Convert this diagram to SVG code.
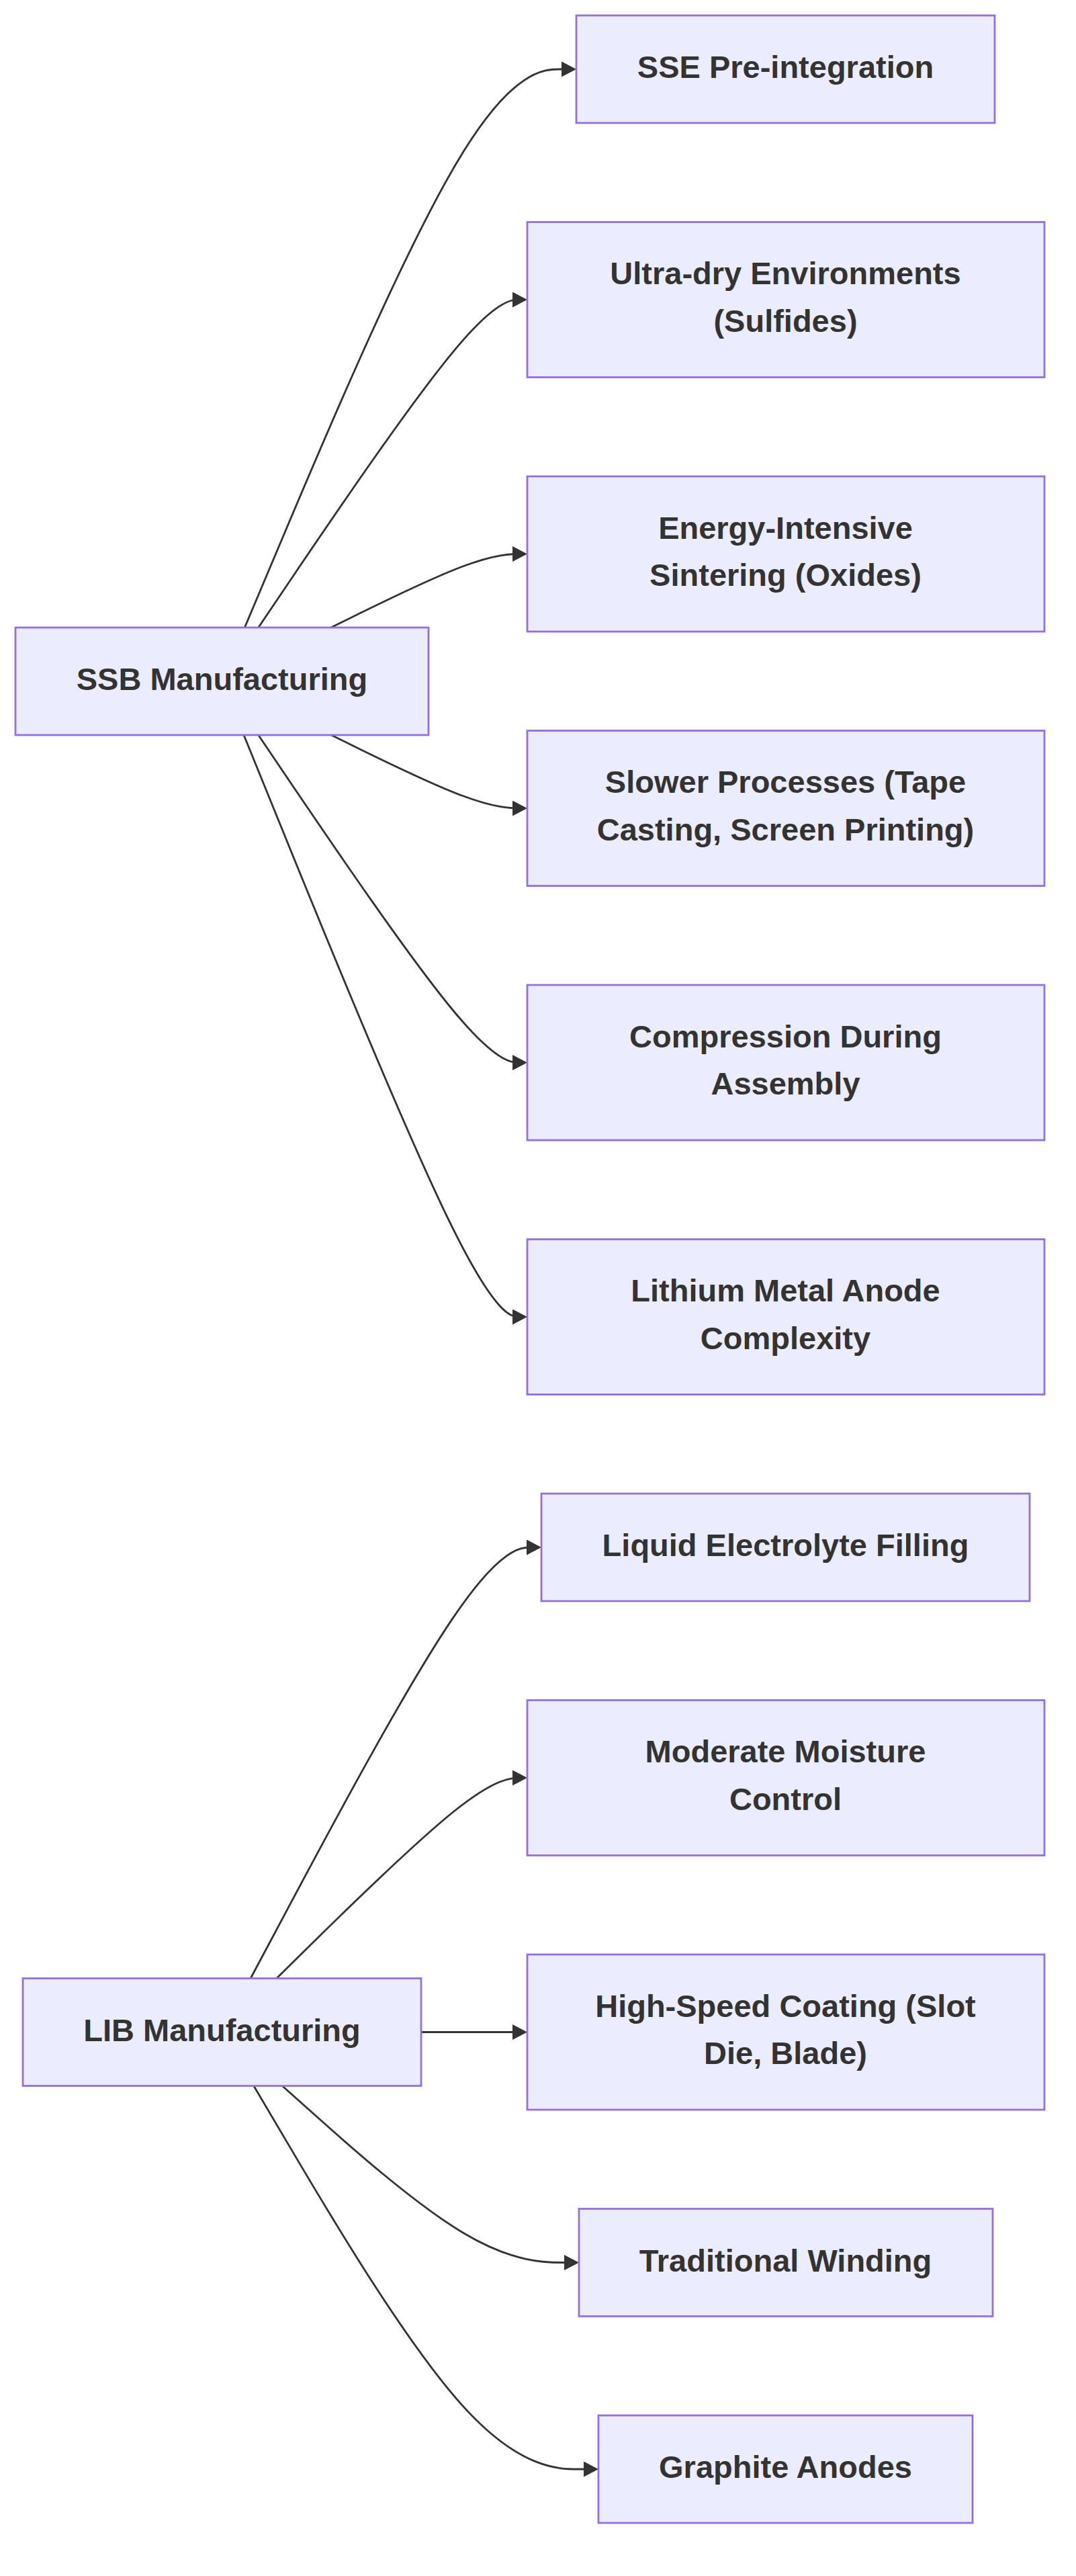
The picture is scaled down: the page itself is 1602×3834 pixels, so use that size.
<svg xmlns="http://www.w3.org/2000/svg" width="1602" height="3834" viewBox="0 0 1602 3834">
<style>
.node rect{fill:#ECECFF;stroke:#9370DB;stroke-width:2.8}
.node text{font-family:"Liberation Sans",Arial,sans-serif;font-weight:bold;font-size:47px;fill:#333333;text-anchor:middle}
.edges path{fill:none;stroke:#333333;stroke-width:2.8}
</style>
<defs>
<marker id="arrow" viewBox="0 0 10 10" refX="6.36" refY="5" markerUnits="userSpaceOnUse" markerWidth="22" markerHeight="23" orient="auto" preserveAspectRatio="none">
<path d="M0,0 L10,5 L0,10 z" fill="#333333"/>
</marker>
</defs>
<rect width="1602" height="3834" fill="#ffffff"/>
<g class="edges">
<path marker-end="url(#arrow)" d="M364.3,934 L422.75,795.5 C481.2,657 598.1,380 680.4,241.5 C762.7,103 810.3,103 834.2,103 L850,103"/>
<path marker-end="url(#arrow)" d="M384.7,934 L439.6,852.7 C494.8,771.3 604.9,608.7 671.6,527.3 C738.3,446 761.7,446 773.3,446 L777,446"/>
<path marker-end="url(#arrow)" d="M492.8,934 L529.8,915.75 C566.9,897.5 640.9,861 689.6,842.75 C738.3,824.5 761.7,824.5 773.3,824.5 L777,824.5"/>
<path marker-end="url(#arrow)" d="M493.25,1094 L530.2,1112.2 C567.2,1130.3 641.1,1166.7 689.7,1184.8 C738.3,1203 761.7,1203 773.3,1203 L777,1203"/>
<path marker-end="url(#arrow)" d="M384.7,1094 L439.6,1175.25 C494.8,1256.5 604.9,1419 671.6,1500.25 C738.3,1581.5 761.7,1581.5 773.3,1581.5 L777,1581.5"/>
<path marker-end="url(#arrow)" d="M363,1094 L421.7,1238.3 C480.3,1382.7 597.7,1671.3 668,1815.7 C738.3,1960 761.7,1960 773.3,1960 L777,1960"/>
<path marker-end="url(#arrow)" d="M373.1,2944.5 L430.1,2837.6 C487.1,2730.7 601,2516.8 673.2,2409.9 C745.3,2303 775.7,2303 790.8,2303 L798,2303"/>
<path marker-end="url(#arrow)" d="M411.8,2944.5 L462.3,2894.75 C512.9,2845 613.9,2745.5 676.1,2695.75 C738.3,2646 761.7,2646 773.3,2646 L777,2646"/>
<path marker-end="url(#arrow)" d="M627,3024.5 L777,3024.5"/>
<path marker-end="url(#arrow)" d="M420.2,3104.5 L469.3,3148.3 C518.5,3192.2 616.7,3279.8 690.4,3323.7 C764,3367.5 813,3367.5 837.5,3367.5 L854,3367.5"/>
<path marker-end="url(#arrow)" d="M377.8,3104.5 L434,3199.6 C490.2,3294.7 602.6,3484.8 688.1,3579.9 C773.7,3675 832.3,3675 861.7,3675 L883,3675"/>
</g>
<g id="ssb" class="node"><rect x="23" y="934" width="615" height="160"/><text x="330.5" y="1027">SSB Manufacturing</text></g>
<g id="lib" class="node"><rect x="34" y="2944.5" width="593" height="160"/><text x="330.5" y="3037.5">LIB Manufacturing</text></g>
<g id="sse" class="node"><rect x="858" y="23" width="623" height="160"/><text x="1169.5" y="116">SSE Pre-integration</text></g>
<g id="ultra" class="node"><rect x="785" y="330.5" width="770" height="231"/><text x="1169.5" y="423">Ultra-dry Environments</text><text x="1169.5" y="493.5">(Sulfides)</text></g>
<g id="energy" class="node"><rect x="785" y="709" width="770" height="231"/><text x="1169.5" y="801.5">Energy-Intensive</text><text x="1169.5" y="872">Sintering (Oxides)</text></g>
<g id="slower" class="node"><rect x="785" y="1087.5" width="770" height="231"/><text x="1169.5" y="1180">Slower Processes (Tape</text><text x="1169.5" y="1250.5">Casting, Screen Printing)</text></g>
<g id="compression" class="node"><rect x="785" y="1466" width="770" height="231"/><text x="1169.5" y="1558.5">Compression During</text><text x="1169.5" y="1629">Assembly</text></g>
<g id="lithium" class="node"><rect x="785" y="1844.5" width="770" height="231"/><text x="1169.5" y="1937">Lithium Metal Anode</text><text x="1169.5" y="2007.5">Complexity</text></g>
<g id="liquid" class="node"><rect x="806" y="2223" width="727" height="160"/><text x="1169.5" y="2316">Liquid Electrolyte Filling</text></g>
<g id="moderate" class="node"><rect x="785" y="2530.5" width="770" height="231"/><text x="1169.5" y="2623">Moderate Moisture</text><text x="1169.5" y="2693.5">Control</text></g>
<g id="highspeed" class="node"><rect x="785" y="2909" width="770" height="231"/><text x="1169.5" y="3001.5">High-Speed Coating (Slot</text><text x="1169.5" y="3072">Die, Blade)</text></g>
<g id="winding" class="node"><rect x="862" y="3287.5" width="616" height="160"/><text x="1169.5" y="3380.5">Traditional Winding</text></g>
<g id="graphite" class="node"><rect x="891" y="3595" width="557" height="160"/><text x="1169.5" y="3688">Graphite Anodes</text></g>
</svg>
